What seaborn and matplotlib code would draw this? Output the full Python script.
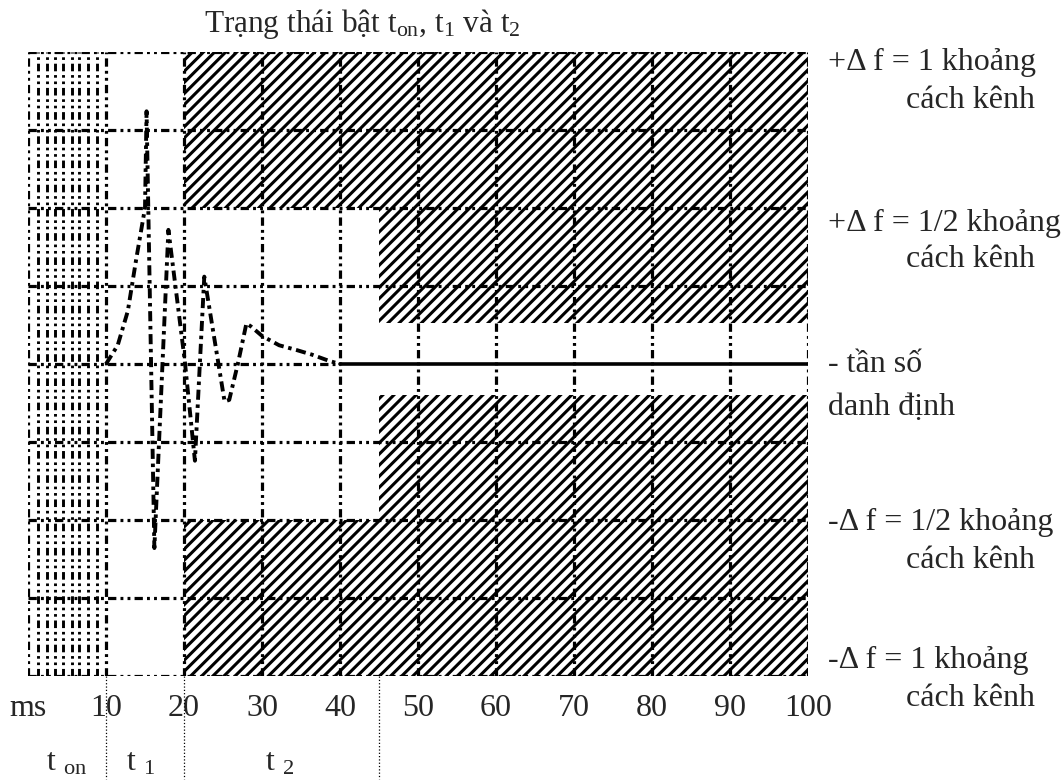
import matplotlib
import matplotlib.pyplot as plt
import numpy as np
import pandas as pd
import seaborn as sns

matplotlib.use('Agg')

# frequency deviation after switch-on (ms, fraction of channel spacing)
curve_t = [10.0, 11.5, 12.8, 13.9, 15.0, 15.2, 16.2, 18.0, 18.8, 20.1, 21.4, 22.6,
           25.2, 25.8, 26.9, 28.0, 28.6, 30.0, 32.2, 34.4, 36.4, 38.6, 40.0]
curve_f = [0.0, 0.06, 0.17, 0.34, 0.50, 0.81, -0.59, 0.43, 0.27, 0.01, -0.31, 0.28,
           -0.12, -0.115, 0.0, 0.13, 0.12, 0.09, 0.06, 0.045, 0.03, 0.01, 0.0]
nominal_t = [40, 100]
nominal_f = [0, 0]

# hatched (not allowed) zones
zone_t0 = [20, 45, 20, 45]
zone_t1 = [100, 100, 100, 100]
zone_lo = [0.5, 0.13, -1.0, -0.5]
zone_hi = [1.0, 0.5, -0.5, -0.10]

grid_t = list(range(0, 101, 10))
grid_f = [-1, -0.75, -0.5, -0.25, 0.25, 0.5, 0.75, 1]
ton_lines = [1.3, 2.4, 3.4, 4.5, 5.6, 6.6, 7.7, 8.8]
phase_bounds = [10, 20, 45]

xticks = list(range(0, 101, 10))
xtick_labels = ['ms'] + [str(v) for v in range(10, 101, 10)]

phase_pos = [4.9, 14.4, 32.2]
phase_labels = ['t $_{on}$', 't $_{1}$', 't $_{2}$']

title = 'Trạng thái bật t$_{on}$, t$_{1}$ và t$_{2}$'
right_labels = [
    ('+Δ f = 1 khoảng', 828, 62), ('cách kênh', 906, 100),
    ('+Δ f = 1/2 khoảng', 828, 223), ('cách kênh', 906, 260),
    ('- tần số', 828, 365), ('danh định', 828, 407),
    ('-Δ f = 1/2 khoảng', 828, 522), ('cách kênh', 906, 560),
    ('-Δ f = 1 khoảng', 828, 660), ('cách kênh', 906, 698),
]

sns.set_theme(style='white')
plt.rcParams['font.family'] = ['Liberation Serif', 'DejaVu Serif']
plt.rcParams['mathtext.default'] = 'regular'
plt.rcParams['hatch.linewidth'] = 2.2

W, H = 1061, 780
fig = plt.figure(figsize=(W / 100, H / 100), dpi=100)
ax = fig.add_axes([28 / W, 1 - 676 / H, 780 / W, 624 / H])
ax.set_xlim(0, 100)
ax.set_ylim(-1, 1)

for t0, t1, lo, hi in zip(zone_t0, zone_t1, zone_lo, zone_hi):
    ax.fill_between([t0, t1], lo, hi, facecolor='white', edgecolor='black',
                    hatch='///', linewidth=0, zorder=1)

dashdot2 = (0, (2.6, 1.3, 0.9, 1.3, 0.9, 1.3))
ax.vlines(ton_lines, -1, 1, colors='black', linewidth=2.1, linestyles=dashdot2, zorder=2)
ax.vlines(grid_t, -1, 1, colors='black', linewidth=2.3, linestyles=dashdot2, zorder=2)
ax.hlines(grid_f, 0, 100, colors='black', linewidth=2.3, linestyles=dashdot2, zorder=2)
ax.hlines([0], 0, 40, colors='black', linewidth=2.3, linestyles=dashdot2, zorder=2)

# phase boundaries below the chart
for b in phase_bounds:
    ax.plot([b, b], [-1, -1.33], color='black', linewidth=0.9, linestyle=':',
            clip_on=False, zorder=2)

sns.lineplot(x=nominal_t, y=nominal_f, ax=ax, color='black', linewidth=2.6,
             estimator=None, sort=False, zorder=3)
sns.lineplot(x=curve_t, y=curve_f, ax=ax, color='black', linewidth=2.8,
             estimator=None, sort=False, linestyle=(0, (2.6, 1.2, 0.9, 1.2)), zorder=4)

ax.set_xticks(xticks)
ax.set_xticklabels(xtick_labels, fontsize=23)
ax.set_yticks([])
ax.tick_params(axis='x', length=0, pad=13)
ax.set_xlabel('')
ax.set_ylabel('')
for s in ax.spines.values():
    s.set_visible(False)

for x, lab in zip(phase_pos, phase_labels):
    ax.text(x, -0.151, lab, transform=ax.get_xaxis_transform(), ha='center',
            va='baseline', fontsize=23)

fig.text(362 / W, 1 - 32 / H, title, ha='center', va='baseline', fontsize=22.5)
for txt, px, py in right_labels:
    fig.text(px / W, 1 - py / H, txt, ha='left', va='center', fontsize=23)

fig.savefig('out.png', dpi=100, facecolor='white')
